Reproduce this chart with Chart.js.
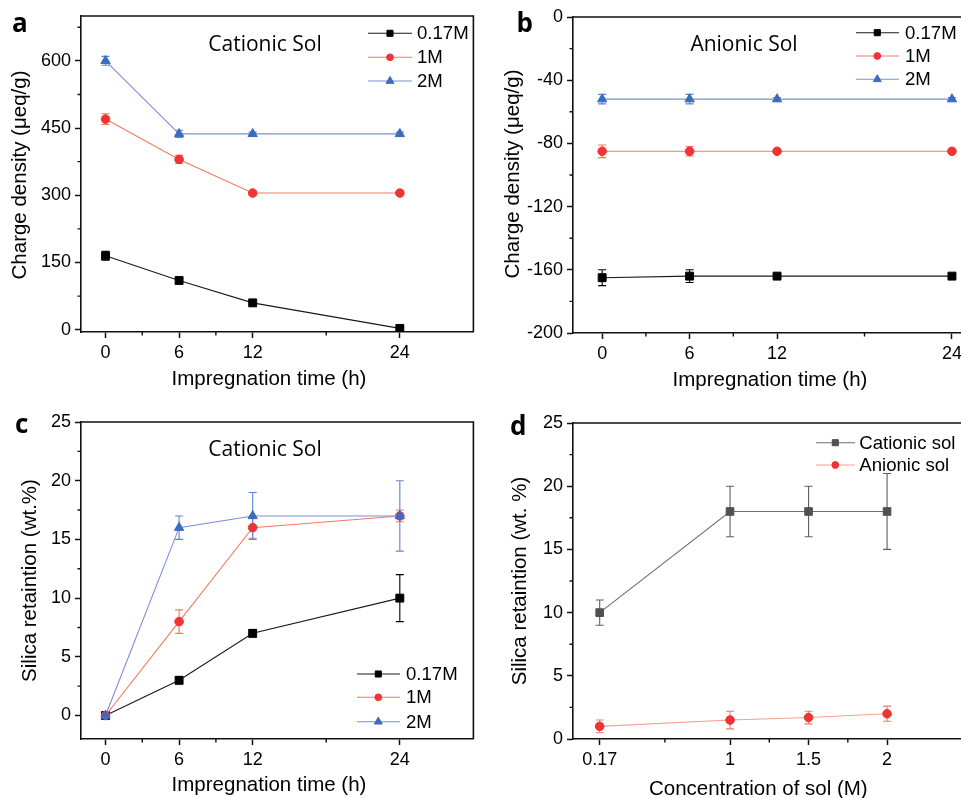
<!DOCTYPE html>
<html><head><meta charset="utf-8">
<script src="https://cdn.jsdelivr.net/npm/chart.js@4.4.0/dist/chart.umd.min.js"></script>
<style>
html,body{margin:0;padding:0;background:#fff;width:961px;height:798px;overflow:hidden;}
.p{position:absolute;overflow:hidden;}
canvas{display:block;}
</style></head><body>
<div class="p" style="left:0;top:0;width:480px;height:400px"><canvas id="ca" width="480" height="400" style="width:480px;height:400px"></canvas></div>
<div class="p" style="left:480px;top:0;width:481px;height:400px"><canvas id="cb" width="566" height="400" style="width:566px;height:400px"></canvas></div>
<div class="p" style="left:0;top:400px;width:480px;height:398px"><canvas id="cc" width="480" height="398" style="width:480px;height:398px"></canvas></div>
<div class="p" style="left:480px;top:400px;width:481px;height:398px"><canvas id="cd" width="492" height="398" style="width:492px;height:398px"></canvas></div>
<script>
// ---------------- DATA ----------------
const timeH = [0, 6, 12, 24];
const timeTicks = [0, 6, 12, 24];
const timeMinor = [3, 9, 18];
const seriesLabels = ['0.17M', '1M', '2M'];

// (a) Cationic sol charge density
const aTicksY = [0, 150, 300, 450, 600];
const aMinorY = [75, 225, 375, 525, 675];
const a017 = [165, 110, 60, 3];
const a017Err = [10, 5, 3, 3];
const a1M = [470, 380, 305, 305];
const a1MErr = [12, 9, 4, 4];
const a2M = [600, 437, 437, 437];
const a2MErr = [10, 8, 4, 4];

// (b) Anionic sol charge density
const bTicksY = [0, -40, -80, -120, -160, -200];
const bMinorY = [-20, -60, -100, -140, -180];
const b017 = [-165, -164, -164, -164];
const b017Err = [5, 4, 1, 1];
const b1M = [-85, -85, -85, -85];
const b1MErr = [4, 3, 1, 1];
const b2M = [-52, -52, -52, -52];
const b2MErr = [3, 3, 1, 1];

// (c) Cationic sol silica retention
const cTicksY = [0, 5, 10, 15, 20, 25];
const cMinorY = [2.5, 7.5, 12.5, 17.5, 22.5];
const c017 = [0, 3, 7, 10];
const c017Err = [0.2, 0.3, 0.3, 2];
const c1M = [0, 8, 16, 17];
const c1MErr = [0.2, 1, 0.9, 0.5];
const c2M = [0, 16, 17, 17];
const c2MErr = [0.2, 1, 2, 3];

// (d) Silica retention vs concentration
const conc = [0.17, 1, 1.5, 2];
const concTicks = [0.17, 1, 1.5, 2];
const concMinor = [0.585, 1.25, 1.75];
const dTicksY = [0, 5, 10, 15, 20, 25];
const dMinorY = [2.5, 7.5, 12.5, 17.5, 22.5];
const dLabels = ['Cationic sol', 'Anionic sol'];
const dCat = [10, 18, 18, 18];
const dCatErr = [1, 2, 2, 3];
const dAn = [1, 1.5, 1.7, 2];
const dAnErr = [0.5, 0.7, 0.5, 0.6];

// ---------------- STYLES ----------------
const ST = {
  black: {mark:'#000000', line:'#1a1a1a', err:'#000000', shape:'rect', r:5.6, lr:4.3},
  red:   {mark:'#ee3434', line:'#f27a62', err:'#f07866', shape:'circle', r:4.3, lr:3.4},
  blue:  {mark:'#3a6cc2', line:'#7d8ed8', err:'#6482d2', shape:'triangle', r:5.4, lr:4.6},
  gray:  {mark:'#505050', line:'#6e6e6e', err:'#5f5f5f', shape:'rect', r:5.4, lr:4.3},
  pink:  {mark:'#ee3434', line:'#f6a090', err:'#f07a6a', shape:'circle', r:4.3, lr:3.4}
};
const TICK_FONT = {family:"'Liberation Sans', Arial, sans-serif", size:18};
const AX_FONT = "20.5px 'Liberation Sans', Arial, sans-serif";
const IN_FONT = "21px 'Open Sans', sans-serif";
const LET_FONT = "bold 26px 'Open Sans', sans-serif";
const LEG_FONT = "18.6px 'Liberation Sans', Arial, sans-serif";

function ds(label, xs, ys, err, st, order) {
  return {
    label, order,
    data: xs.map((x, i) => ({x, y: ys[i]})),
    err, errColor: st.err, legR: st.lr,
    borderColor: st.line, backgroundColor: st.mark,
    pointBackgroundColor: st.mark, pointBorderColor: st.mark,
    pointStyle: st.shape, pointRadius: st.r, pointBorderWidth: 1,
    borderWidth: 1.1, tension: 0, fill: false
  };
}

// ---------------- PLUGIN ----------------
const deco = {
  id: 'deco',
  beforeDatasetsDraw(chart) {
    const ctx = chart.ctx, xs = chart.scales.x, ys = chart.scales.y;
    chart.data.datasets.forEach(d => {
      if (!d.err) return;
      ctx.save();
      ctx.strokeStyle = d.errColor; ctx.lineWidth = 1.1;
      d.data.forEach((p, i) => {
        const e = d.err[i];
        const px = xs.getPixelForValue(p.x);
        const y1 = ys.getPixelForValue(p.y + e), y2 = ys.getPixelForValue(p.y - e);
        ctx.beginPath();
        ctx.moveTo(px, y1); ctx.lineTo(px, y2);
        ctx.moveTo(px - 4, y1); ctx.lineTo(px + 4, y1);
        ctx.moveTo(px - 4, y2); ctx.lineTo(px + 4, y2);
        ctx.stroke();
      });
      ctx.restore();
    });
  },
  afterDraw(chart, args, o) {
    const ctx = chart.ctx, a = chart.chartArea, xs = chart.scales.x, ys = chart.scales.y;
    ctx.save();
    ctx.strokeStyle = '#111'; ctx.lineWidth = 1.6;
    ctx.beginPath();
    ctx.moveTo(a.left, a.top); ctx.lineTo(a.right, a.top); ctx.lineTo(a.right, a.bottom);
    ctx.stroke();
    ctx.lineWidth = 1.4;
    ctx.beginPath();
    (o.minorX || []).forEach(v => { const x = xs.getPixelForValue(v); ctx.moveTo(x, a.bottom); ctx.lineTo(x, a.bottom + 3.5); });
    (o.minorY || []).forEach(v => { const y = ys.getPixelForValue(v); ctx.moveTo(a.left, y); ctx.lineTo(a.left - 3.5, y); });
    ctx.stroke();
    // texts
    ctx.fillStyle = '#000';
    (o.texts || []).forEach(t => {
      ctx.save();
      ctx.font = t.font; ctx.textAlign = t.align || 'center'; ctx.textBaseline = t.base || 'alphabetic';
      ctx.translate(t.x, t.y);
      if (t.rot) ctx.rotate(t.rot);
      ctx.fillText(t.text, 0, 0);
      ctx.restore();
    });
    // legend
    const L = o.legend;
    if (L) {
      chart.data.datasets.forEach((d, i) => {
        const y = L.rows[i];
        ctx.strokeStyle = d.borderColor; ctx.lineWidth = 1.1;
        ctx.beginPath(); ctx.moveTo(L.x1, y); ctx.lineTo(L.x2, y); ctx.stroke();
        ctx.fillStyle = d.pointBackgroundColor; ctx.strokeStyle = d.pointBorderColor; ctx.lineWidth = 1;
        Chart.helpers.drawPoint(ctx, {pointStyle: d.pointStyle, radius: d.legR, rotation: 0, borderWidth: 1}, L.xm, y);
        ctx.fillStyle = '#000'; ctx.font = LEG_FONT; ctx.textAlign = 'left'; ctx.textBaseline = 'middle';
        ctx.fillText(d.label, L.xt, y + 1);
      });
    }
    ctx.restore();
  }
};

function axis(min, max, ticks, sizeProp, size) {
  return {
    type: 'linear', min, max,
    afterBuildTicks: s => { s.ticks = ticks.map(v => ({value: v})); },
    afterFit: s => { s[sizeProp] = size; },
    grid: {display: true, drawOnChartArea: false, drawTicks: true, tickLength: 6, tickWidth: 1.5, tickColor: '#111', color: '#111'},
    border: {display: true, color: '#111', width: 1.6},
    ticks: {color: '#000', font: TICK_FONT, padding: 4, maxRotation: 0, autoSkip: false, callback: v => String(v)}
  };
}

function make(id, datasets, xAx, yAx, pad, deco_o) {
  return new Chart(document.getElementById(id), {
    type: 'line',
    data: {datasets},
    options: {
      responsive: false, animation: false, devicePixelRatio: 1,
      layout: {padding: pad},
      plugins: {legend: {display: false}, tooltip: {enabled: false}, title: {display: false}, deco: deco_o},
      scales: {x: xAx, y: yAx}
    },
    plugins: [deco]
  });
}

// (a)
make('ca', [
  ds(seriesLabels[0], timeH, a017, a017Err, ST.black, 3),
  ds(seriesLabels[1], timeH, a1M, a1MErr, ST.red, 2),
  ds(seriesLabels[2], timeH, a2M, a2MErr, ST.blue, 1)
], axis(-2, 30, timeTicks, 'height', 68), axis(-5, 700, aTicksY, 'width', 81),
{top: 16, right: 5, left: 0, bottom: 0},
{minorX: timeMinor, minorY: aMinorY,
 texts: [
  {text: 'a', x: 12, y: 32, font: LET_FONT, align: 'left'},
  {text: 'Cationic Sol', x: 265, y: 50.5, font: IN_FONT},
  {text: 'Impregnation time (h)', x: 269, y: 385, font: AX_FONT},
  {text: 'Charge density (\u03bceq/g)', x: 20, y: 175, font: AX_FONT, base: 'middle', rot: -Math.PI / 2}
 ],
 legend: {x1: 368, x2: 412, xm: 390, xt: 417, rows: [33.3, 57.3, 81]}});

// (b)
make('cb', [
  ds(seriesLabels[0], timeH, b017, b017Err, ST.black, 3),
  ds(seriesLabels[1], timeH, b1M, b1MErr, ST.red, 2),
  ds(seriesLabels[2], timeH, b2M, b2MErr, ST.blue, 1)
], axis(-2, 30, timeTicks, 'height', 67), axis(-200, 0, bTicksY, 'width', 93),
{top: 17, right: 6, left: 0, bottom: 0},
{minorX: timeMinor, minorY: bMinorY,
 texts: [
  {text: 'b', x: 36.5, y: 32, font: LET_FONT, align: 'left'},
  {text: 'Anionic Sol', x: 264, y: 50.5, font: IN_FONT},
  {text: 'Impregnation time (h)', x: 290, y: 386, font: AX_FONT},
  {text: 'Charge density (\u03bceq/g)', x: 33, y: 174, font: AX_FONT, base: 'middle', rot: -Math.PI / 2}
 ],
 legend: {x1: 376, x2: 419, xm: 397.3, xt: 425, rows: [32.7, 56, 79.3]}});

// (c)
make('cc', [
  ds(seriesLabels[0], timeH, c017, c017Err, ST.black, 3),
  ds(seriesLabels[1], timeH, c1M, c1MErr, ST.red, 2),
  ds(seriesLabels[2], timeH, c2M, c2MErr, ST.blue, 1)
], axis(-2, 30, timeTicks, 'height', 59), axis(-2, 25, cTicksY, 'width', 81),
{top: 22, right: 5, left: 0, bottom: 0},
{minorX: timeMinor, minorY: cMinorY,
 texts: [
  {text: 'c', x: 15, y: 33, font: LET_FONT, align: 'left'},
  {text: 'Cationic Sol', x: 265, y: 56, font: IN_FONT},
  {text: 'Impregnation time (h)', x: 269, y: 390.5, font: AX_FONT},
  {text: 'Silica retaintion (wt.%)', x: 30, y: 180.5, font: AX_FONT, base: 'middle', rot: -Math.PI / 2}
 ],
 legend: {x1: 357, x2: 400, xm: 378.3, xt: 406, rows: [274, 297.3, 321.7]}});

// (d)
make('cd', [
  ds(dLabels[0], conc, dCat, dCatErr, ST.gray, 2),
  ds(dLabels[1], conc, dAn, dAnErr, ST.pink, 1)
], axis(0, 2.5, concTicks, 'height', 59), axis(0, 25, dTicksY, 'width', 93),
{top: 23, right: 5.5, left: 0, bottom: 0},
{minorX: concMinor, minorY: dMinorY,
 texts: [
  {text: 'd', x: 30, y: 35, font: LET_FONT, align: 'left'},
  {text: 'Concentration of sol (M)', x: 278.3, y: 395, font: AX_FONT},
  {text: 'Silica retaintion (wt. %)', x: 40, y: 181, font: AX_FONT, base: 'middle', rot: -Math.PI / 2}
 ],
 legend: {x1: 336, x2: 375, xm: 355.3, xt: 379.3, rows: [42.7, 65]}});
</script>
</body></html>
